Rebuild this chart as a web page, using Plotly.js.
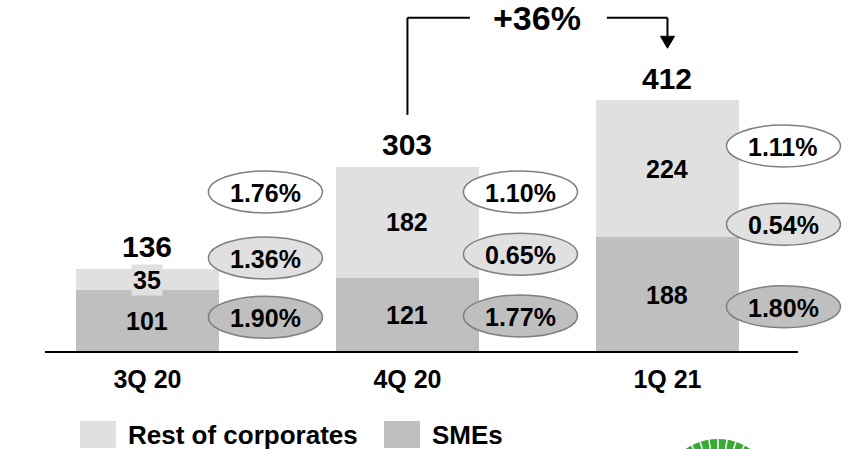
<!DOCTYPE html>
<html>
<head>
<meta charset="utf-8">
<script src="https://cdn.plot.ly/plotly-3.0.1.min.js"></script>
<style>
  html, body { margin: 0; padding: 0; background: #ffffff; }
  #chart { width: 850px; height: 449px; }
</style>
</head>
<body>
<div id="chart"></div>
<script>
// Quarterly corporate exposure, stacked by segment
const categories = ['3Q 20', '4Q 20', '1Q 21'];
const smes = [101, 121, 188];
const restOfCorporates = [35, 182, 224];
const seriesNames = ['Rest of corporates', 'SMEs'];

// Rates shown in the bubbles next to each bar (top, middle, bottom row)
const rateTop = [1.76, 1.10, 1.11];
const rateMid = [1.36, 0.65, 0.54];
const rateBottom = [1.90, 1.77, 1.80];

// Bubble placement: vertical centre (y units) and horizontal offset (px)
const bubbleY = {
  top: [262, 262, 337],
  mid: [154, 160, 209],
  bottom: [57, 59, 74]
};
const bubbleDx = [118, 113, 116];

const LIGHT = '#e0e0e0';
const DARK = '#bfbfbf';
const FONT = 'Liberation Sans, Arial, Helvetica, sans-serif';

const totals = smes.map((v, i) => v + restOfCorporates[i]);
const growth = Math.round((totals[2] / totals[1] - 1) * 100);

// pixel -> paper helpers (plot area spans 850 x 352 from the top-left)
const PW = 850, PH = 352;
const paperX = p => p / PW;
const paperY = p => (PH - p) / PH;

const traces = [
  {
    type: 'bar', name: seriesNames[1], x: categories, y: smes,
    marker: { color: DARK, line: { width: 0 } }, width: 0.55,
    hoverinfo: 'none', showlegend: false
  },
  {
    type: 'bar', name: seriesNames[0], x: categories, y: restOfCorporates,
    marker: { color: LIGHT, line: { width: 0 } }, width: 0.55,
    hoverinfo: 'none', showlegend: false
  }
];

const annotations = [];
const shapes = [];

// Segment values and totals
categories.forEach((c, i) => {
  annotations.push({
    x: i, y: smes[i] / 2, xref: 'x', yref: 'y', text: String(smes[i]),
    showarrow: false, yanchor: 'middle',
    font: { family: FONT, size: 25, color: '#000', weight: 'bold' }
  });
  annotations.push({
    x: i, y: smes[i] + restOfCorporates[i] / 2, xref: 'x', yref: 'y',
    text: String(restOfCorporates[i]), showarrow: false, yanchor: 'middle',
    bgcolor: LIGHT, borderpad: 1,
    font: { family: FONT, size: 25, color: '#000', weight: 'bold' }
  });
  annotations.push({
    x: i, y: totals[i], xref: 'x', yref: 'y', text: String(totals[i]),
    showarrow: false, yanchor: 'middle', yshift: 22,
    font: { family: FONT, size: 30, color: '#000', weight: 'bold' }
  });
});

// Rate bubbles
const rows = [
  { vals: rateTop, ys: bubbleY.top, fill: '#ffffff' },
  { vals: rateMid, ys: bubbleY.mid, fill: LIGHT },
  { vals: rateBottom, ys: bubbleY.bottom, fill: DARK }
];
rows.forEach(row => {
  row.vals.forEach((v, i) => {
    const dx = bubbleDx[i];
    shapes.push({
      type: 'circle', xref: 'x', yref: 'y',
      xsizemode: 'pixel', ysizemode: 'pixel',
      xanchor: i, yanchor: row.ys[i],
      x0: dx - 57, x1: dx + 57, y0: -21, y1: 21,
      fillcolor: row.fill, line: { color: '#7f7f7f', width: 1.5 }, layer: 'above'
    });
    annotations.push({
      x: i, y: row.ys[i], xref: 'x', yref: 'y', xshift: dx, yshift: -1,
      text: v.toFixed(2) + '%', showarrow: false, yanchor: 'middle',
      font: { family: FONT, size: 25, color: '#000', weight: 'bold' }
    });
  });
});

// Growth bracket from 4Q 20 to 1Q 21
const bracketY = 547;
const lineStyle = { color: '#000', width: 2 };
shapes.push({ type: 'line', xref: 'x', yref: 'y', x0: 1, x1: 1, y0: 388, y1: bracketY, line: lineStyle });
shapes.push({ type: 'line', xref: 'x', yref: 'y', x0: 1, x1: 1.24, y0: bracketY, y1: bracketY, line: lineStyle });
shapes.push({ type: 'line', xref: 'x', yref: 'y', x0: 1.767, x1: 2, y0: bracketY, y1: bracketY, line: lineStyle });
shapes.push({ type: 'line', xref: 'x', yref: 'y', x0: 2, x1: 2, y0: bracketY, y1: 512, line: lineStyle });
shapes.push({
  type: 'path', xref: 'x', yref: 'y', xsizemode: 'pixel', ysizemode: 'pixel',
  xanchor: 2, yanchor: 497, path: 'M -7,12 L 7,12 L 0,0 Z',
  fillcolor: '#000', line: { color: '#000', width: 1 }
});
annotations.push({
  x: 1.5, y: bracketY, xref: 'x', yref: 'y', text: '+' + growth + '%',
  showarrow: false, yanchor: 'middle',
  font: { family: FONT, size: 34, color: '#000', weight: 'bold' }
});

// Baseline
shapes.push({
  type: 'line', xref: 'paper', yref: 'paper',
  x0: paperX(45), x1: paperX(798), y0: 0, y1: 0,
  line: { color: '#000', width: 2 }
});

// Legend
const legendItems = [
  { name: seriesNames[0], color: LIGHT, box: 80, text: 126 },
  { name: seriesNames[1], color: DARK, box: 384, text: 430 }
];
legendItems.forEach(it => {
  shapes.push({
    type: 'rect', xref: 'paper', yref: 'paper',
    x0: paperX(it.box), x1: paperX(it.box + 36), y0: paperY(421), y1: paperY(448),
    fillcolor: it.color, line: { width: 0 }
  });
  annotations.push({
    x: paperX(it.text), y: paperY(435), xref: 'paper', yref: 'paper',
    text: it.name, showarrow: false, xanchor: 'left', yanchor: 'middle',
    font: { family: FONT, size: 26, color: '#000', weight: 'bold' }
  });
});

// Corner emblem
const cx = 718, cy = 497, r = 58;
shapes.push({
  type: 'circle', xref: 'paper', yref: 'paper',
  x0: paperX(cx - r), x1: paperX(cx + r), y0: paperY(cy + r), y1: paperY(cy - r),
  fillcolor: '#3aaa35', line: { width: 0 }
});
for (let a = 54; a <= 126; a += 9) {
  const rad = a * Math.PI / 180;
  shapes.push({
    type: 'line', xref: 'paper', yref: 'paper',
    x0: paperX(cx + (r - 12) * Math.cos(rad)), y0: paperY(cy - (r - 12) * Math.sin(rad)),
    x1: paperX(cx + (r + 1) * Math.cos(rad)), y1: paperY(cy - (r + 1) * Math.sin(rad)),
    line: { color: '#ffffff', width: 1.5 }
  });
}

const layout = {
  width: 850, height: 449,
  margin: { l: 0, r: 0, t: 0, b: 97, pad: 0 },
  paper_bgcolor: '#ffffff', plot_bgcolor: '#ffffff',
  barmode: 'stack', bargap: 0.45,
  showlegend: false,
  xaxis: {
    type: 'category', range: [-0.567, 2.702],
    showgrid: false, zeroline: false, showline: false, ticks: '',
    ticklabelstandoff: 10,
    tickfont: { family: FONT, size: 25, color: '#000', weight: 'bold' },
    fixedrange: true
  },
  yaxis: { range: [0, 576], visible: false, fixedrange: true },
  shapes: shapes,
  annotations: annotations
};

Plotly.newPlot('chart', traces, layout, { staticPlot: true, displayModeBar: false });
</script>
</body>
</html>
